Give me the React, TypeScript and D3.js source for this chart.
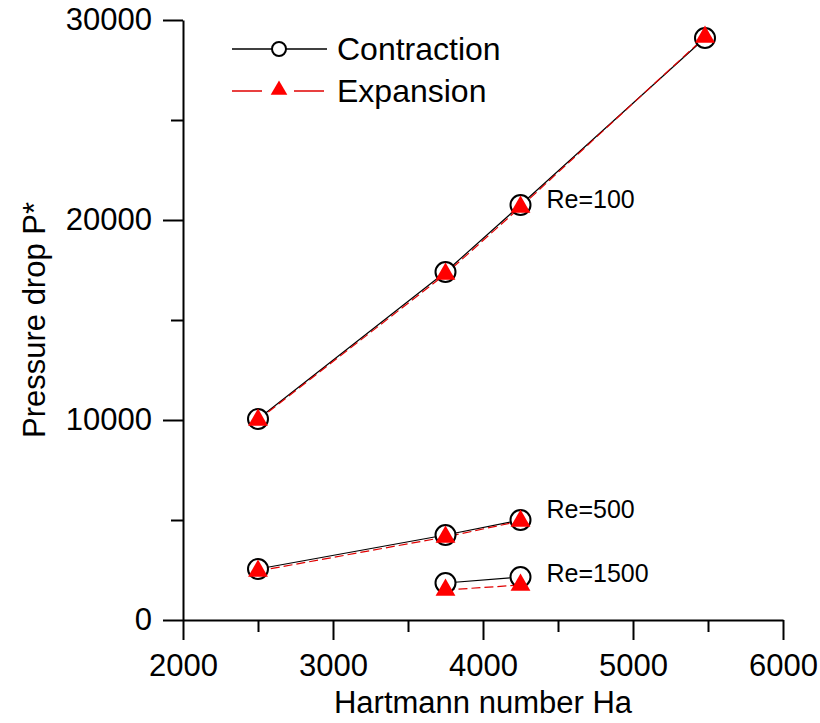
import React, { useRef, useEffect } from "react";
import * as d3 from "d3";

// Hartmann number values for each Reynolds group
const re100Ha = [2500, 3750, 4250, 5480];
const re100Contraction = [10050, 17400, 20750, 29100];
const re100Expansion = [10000, 17300, 20650, 29150];

const re500Ha = [2500, 3750, 4250];
const re500Contraction = [2550, 4250, 5000];
const re500Expansion = [2450, 4150, 4950];

const re1500Ha = [3750, 4250];
const re1500Contraction = [1850, 2150];
const re1500Expansion = [1500, 1750];

const groupLabels = ["Re=100", "Re=500", "Re=1500"];

const xMajorTicks = [2000, 3000, 4000, 5000, 6000];
const xMinorTicks = [2500, 3500, 4500, 5500];
const yMajorTicks = [0, 10000, 20000, 30000];
const yMinorTicks = [5000, 15000, 25000];

const FONT = "'Liberation Sans', Arial, sans-serif";

const App = () => {
    const svgRef = useRef<SVGSVGElement>(null);
    const width = 820;
    const height = 723;

    const xScale = d3.scaleLinear().domain([2000, 6000]).range([183, 783]);
    const yScale = d3.scaleLinear().domain([0, 30000]).range([620, 20]);

    useEffect(() => {
        const svg = d3.select(svgRef.current);
        svg.selectAll("*").remove();

        // axes
        const styleAxis = (g) => {
            g.selectAll("path").attr("stroke", "#000").attr("stroke-width", 2);
            g.selectAll("line").attr("stroke", "#000").attr("stroke-width", 2);
            g.selectAll("text")
                .attr("fill", "#000")
                .style("font-family", FONT)
                .style("font-size", "31px");
        };

        const xAxis = svg.append("g")
            .attr("transform", "translate(0,620)")
            .call(d3.axisBottom(xScale).tickValues(xMajorTicks).tickSize(20).tickSizeOuter(0)
                .tickPadding(14).tickFormat(d3.format("d")));
        styleAxis(xAxis);
        const xMinor = svg.append("g")
            .attr("transform", "translate(0,620)")
            .call(d3.axisBottom(xScale).tickValues(xMinorTicks).tickSize(12).tickSizeOuter(0).tickFormat(() => ""));
        styleAxis(xMinor);
        xMinor.select(".domain").remove();

        const yAxis = svg.append("g")
            .attr("transform", "translate(183,0)")
            .call(d3.axisLeft(yScale).tickValues(yMajorTicks).tickSize(20).tickSizeOuter(0)
                .tickPadding(11).tickFormat(d3.format("d")));
        styleAxis(yAxis);
        const yMinor = svg.append("g")
            .attr("transform", "translate(183,0)")
            .call(d3.axisLeft(yScale).tickValues(yMinorTicks).tickSize(12).tickSizeOuter(0).tickFormat(() => ""));
        styleAxis(yMinor);
        yMinor.select(".domain").remove();

        // axis titles
        svg.append("text")
            .attr("x", 483)
            .attr("y", 713)
            .attr("text-anchor", "middle")
            .style("font-family", FONT)
            .style("font-size", "31px")
            .text("Hartmann number Ha");

        svg.append("text")
            .attr("transform", "translate(45,320) rotate(-90)")
            .attr("text-anchor", "middle")
            .style("font-family", FONT)
            .style("font-size", "31px")
            .text("Pressure drop P*");

        const groups = [
            { ha: re100Ha, con: re100Contraction, exp: re100Expansion, label: groupLabels[0], dy: 3 },
            { ha: re500Ha, con: re500Contraction, exp: re500Expansion, label: groupLabels[1], dy: -2 },
            { ha: re1500Ha, con: re1500Contraction, exp: re1500Expansion, label: groupLabels[2], dy: 5 },
        ];

        const line = d3.line<[number, number]>()
            .x(d => xScale(d[0]))
            .y(d => yScale(d[1]));

        const tri = d3.symbol().type(d3.symbolTriangle).size(170);
        const triSmall = d3.symbol().type(d3.symbolTriangle).size(120);

        groups.forEach(gr => {
            const conPts = gr.ha.map((h, i) => [h, gr.con[i]] as [number, number]);
            const expPts = gr.ha.map((h, i) => [h, gr.exp[i]] as [number, number]);

            svg.append("path")
                .attr("d", line(conPts))
                .attr("fill", "none")
                .attr("stroke", "#000")
                .attr("stroke-width", 1.2);

            svg.append("path")
                .attr("d", line(expPts))
                .attr("fill", "none")
                .attr("stroke", "#e00000")
                .attr("stroke-width", 1.2)
                .attr("stroke-dasharray", "9,4");

            svg.append("g")
                .selectAll("circle")
                .data(conPts)
                .enter()
                .append("circle")
                .attr("cx", d => xScale(d[0]))
                .attr("cy", d => yScale(d[1]))
                .attr("r", 10)
                .attr("fill", "#fff")
                .attr("stroke", "#000")
                .attr("stroke-width", 2);

            svg.append("g")
                .selectAll("path")
                .data(expPts)
                .enter()
                .append("path")
                .attr("d", tri)
                .attr("transform", d => `translate(${xScale(d[0])},${yScale(d[1])})`)
                .attr("fill", "#ff0000");

            const last = conPts[conPts.length - 1];
            const anchor = gr.label === "Re=100" ? conPts[2] : last;
            svg.append("text")
                .attr("x", xScale(anchor[0]) + 26)
                .attr("y", yScale(anchor[1]) + gr.dy)
                .style("font-family", FONT)
                .style("font-size", "25px")
                .text(gr.label);
        });

        // legend
        const legend = svg.append("g");
        legend.append("line")
            .attr("x1", 232).attr("x2", 327).attr("y1", 49).attr("y2", 49)
            .attr("stroke", "#000").attr("stroke-width", 1.5);
        legend.append("circle")
            .attr("cx", 279).attr("cy", 49).attr("r", 7)
            .attr("fill", "#fff").attr("stroke", "#000").attr("stroke-width", 2);
        legend.append("text")
            .attr("x", 337).attr("y", 60)
            .style("font-family", FONT).style("font-size", "32px")
            .text("Contraction");

        legend.append("line")
            .attr("x1", 232).attr("x2", 262).attr("y1", 91).attr("y2", 91)
            .attr("stroke", "#e00000").attr("stroke-width", 1.5);
        legend.append("line")
            .attr("x1", 294).attr("x2", 324).attr("y1", 91).attr("y2", 91)
            .attr("stroke", "#e00000").attr("stroke-width", 1.5);
        legend.append("path")
            .attr("d", triSmall)
            .attr("transform", "translate(279,90)")
            .attr("fill", "#ff0000");
        legend.append("text")
            .attr("x", 337).attr("y", 102)
            .style("font-family", FONT).style("font-size", "32px")
            .text("Expansion");
    }, []);

    return (
        <div>
            <svg ref={svgRef} width={width} height={height}
                style={{ position: "absolute", left: 0, top: 0, background: "#fff" }}></svg>
        </div>
    );
};

export default App;
